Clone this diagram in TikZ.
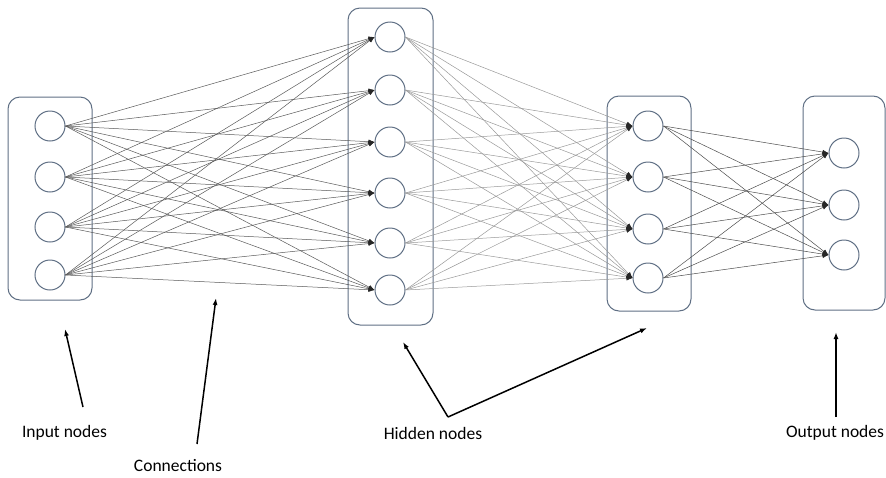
\documentclass[tikz,border=0pt]{standalone}
\usepackage{fontspec}
\setmainfont{Carlito}
\usetikzlibrary{arrows.meta}
\definecolor{edgec}{HTML}{5F6F84}
\begin{document}
\begin{tikzpicture}[x=1pt,y=-1pt,
  neuron/.style={circle,draw=edgec,line width=1pt,minimum size=30pt,inner sep=0pt},
  layerbox/.style={draw=edgec,line width=1pt,rounded corners=12pt,inner sep=0pt},
  conn/.style={line width=0.5pt,-{Latex[length=6pt,width=4.5pt,color=black!85]}},
  lbl/.style={font=\fontsize{17.5}{20}\selectfont,inner sep=0pt},
  callout/.style={line width=1.5pt,-{Latex[length=7pt,width=5pt]}}]
\useasboundingbox (0,0) rectangle (886,477);
% layer boxes
\node[layerbox,minimum width=84pt,minimum height=203pt] (inbox) at (50,198.5) {};
\node[layerbox,minimum width=85pt,minimum height=317pt] (h1box) at (390.5,166.5) {};
\node[layerbox,minimum width=84pt,minimum height=215pt] (h2box) at (649,203.5) {};
\node[layerbox,minimum width=82pt,minimum height=214pt] (outbox) at (844,203) {};
% neurons
\foreach \y [count=\k] in {126,177,227,275} \node[neuron] (i\k) at (50,\y) {};
\foreach \y [count=\k] in {37,90,142,193,243,290} \node[neuron] (h\k) at (390,\y) {};
\foreach \y [count=\k] in {126,177,229,278} \node[neuron] (g\k) at (648,\y) {};
\foreach \y [count=\k] in {153,205,255} \node[neuron] (o\k) at (844,\y) {};
% connections
\foreach \a in {1,...,4} \foreach \b in {1,...,6}
  \draw[conn,draw=black!65] (i\a.east) -- (h\b.west);
\foreach \a in {1,...,6} \foreach \b in {1,...,4}
  \draw[conn,draw=black!40] (h\a.east) -- (g\b.west);
\foreach \a in {1,...,4} \foreach \b in {1,...,3}
  \draw[conn,draw=black!70] (g\a.east) -- (o\b.west);
% labels
\node[lbl] (tin) at (64.5,433) {Input nodes};
\node[lbl] (tcon) at (178,466) {Connections};
\node[lbl] (thid) at (433,433) {Hidden nodes};
\node[lbl] (tout) at (835,433) {Output nodes};
% callout arrows
\coordinate (cinA) at (83,407);   \coordinate (cinB) at (65,329);
\coordinate (cconA) at (197,444); \coordinate (cconB) at (216,298);
\coordinate (chidA) at (448,417); \coordinate (chidB) at (403,342); \coordinate (chidC) at (647,328);
\coordinate (coutA) at (836,417); \coordinate (coutB) at (836,332);
\draw[callout] (cinA) -- (cinB);
\draw[callout] (cconA) -- (cconB);
\draw[callout] (chidA) -- (chidB);
\draw[callout] (chidA) -- (chidC);
\draw[callout] (coutA) -- (coutB);
\end{tikzpicture}
\end{document}
